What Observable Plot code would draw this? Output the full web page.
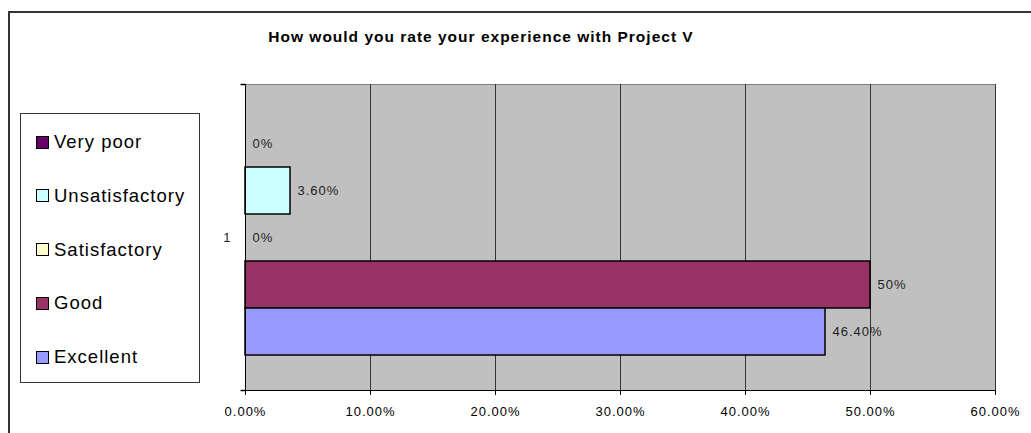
<!DOCTYPE html>
<html>
<head>
<meta charset="utf-8">
<script src="https://cdn.jsdelivr.net/npm/d3@7"></script>
<script src="https://cdn.jsdelivr.net/npm/@observablehq/plot@0.6"></script>
<style>
  html, body { margin: 0; padding: 0; background: #fff; overflow: hidden; }
  #wrap { position: relative; width: 1031px; height: 433px; font-family: "Liberation Sans", Arial, sans-serif; }
  #outer { position: absolute; left: 8px; top: 11px; width: 1100px; height: 500px; border-top: 2px solid #333; border-left: 2px solid #333; }
  #title { position: absolute; left: 0; width: 962px; top: 28px; text-align: center; font-weight: bold; font-size: 15.5px; letter-spacing: 1px; line-height: 18px; color: #000; }
  #legend { position: absolute; left: 20px; top: 113px; width: 180px; height: 270px; box-sizing: border-box; border: 1px solid #333; background: #fff; }
  .item { position: absolute; left: 15px; height: 22px; display: flex; align-items: center; font-size: 18.5px; letter-spacing: 1px; color: #000; white-space: nowrap; }
  .sw { width: 13px; height: 13px; box-sizing: border-box; border: 1.5px solid #000; margin-right: 5px; }
  #chart { position: absolute; left: 0; top: 0; }
</style>
</head>
<body>
<div id="wrap">
  <div id="outer"></div>
  <div id="chart"></div>
  <div id="title"></div>
  <div id="legend"></div>
</div>
<script>
const titleText = "How would you rate your experience with Project V";
const categories = ["Very poor", "Unsatisfactory", "Satisfactory", "Good", "Excellent"];
const values = [0, 0.036, 0, 0.5, 0.464];
const valueLabels = ["0%", "3.60%", "0%", "50%", "46.40%"];
const colors = ["#660066", "#CCFFFF", "#FFFFCC", "#993366", "#9999FF"];
const xTicks = [0, 0.1, 0.2, 0.3, 0.4, 0.5, 0.6];
const groupLabel = "1";

const data = categories.map((c, i) => ({category: c, value: values[i], label: valueLabels[i]}));
const fmt = d3.format(".2%");

const tickSymbol = {
  draw(context, size) {
    const r = Math.sqrt(size / Math.PI);
    context.moveTo(-r, 0);
    context.lineTo(0, 0);
  }
};

const chart = Plot.plot({
  width: 1031,
  height: 433,
  marginLeft: 245,
  marginRight: 36,
  marginTop: 84,
  marginBottom: 43,
  style: {fontFamily: "'Liberation Sans', Arial, sans-serif", fontSize: "13px", letterSpacing: "1px", background: "transparent", overflow: "visible", color: "#000"},
  x: {domain: [0, 0.6], label: null},
  y: {domain: categories, paddingInner: 0, paddingOuter: 0.755, axis: null},
  color: {domain: categories, range: colors},
  marks: [
    Plot.frame({fill: "#C0C0C0", stroke: "#808080"}),
    Plot.gridX(xTicks, {stroke: "#333", strokeOpacity: 1}),
    Plot.barX(data, {y: "category", x: "value", fill: "category", stroke: "#000", strokeWidth: 1.5}),
    Plot.text(data, {y: "category", x: "value", text: "label", textAnchor: "start", dx: 7, fill: "#222"}),
    Plot.frame({anchor: "left", stroke: "#000"}),
    Plot.frame({anchor: "bottom", stroke: "#000"}),
    Plot.axisX({ticks: xTicks, tickFormat: fmt, tickSize: 5, tickPadding: 11, label: null}),
    Plot.text([groupLabel], {text: d => d, frameAnchor: "left", textAnchor: "end", dx: -14, fill: "#222"}),
    Plot.dot([groupLabel], {frameAnchor: "top-left", symbol: tickSymbol, r: 5, stroke: "#000"}),
    Plot.dot([groupLabel], {frameAnchor: "bottom-left", symbol: tickSymbol, r: 5, stroke: "#000"})
  ]
});
document.getElementById("chart").appendChild(chart);

document.getElementById("title").textContent = titleText;
const legend = document.getElementById("legend");
categories.forEach((c, i) => {
  const item = document.createElement("div");
  item.className = "item";
  item.style.top = (17 + 53.75 * i) + "px";
  const sw = document.createElement("span");
  sw.className = "sw";
  sw.style.background = colors[i];
  const t = document.createElement("span");
  t.textContent = c;
  item.appendChild(sw);
  item.appendChild(t);
  legend.appendChild(item);
});
</script>
</body>
</html>
